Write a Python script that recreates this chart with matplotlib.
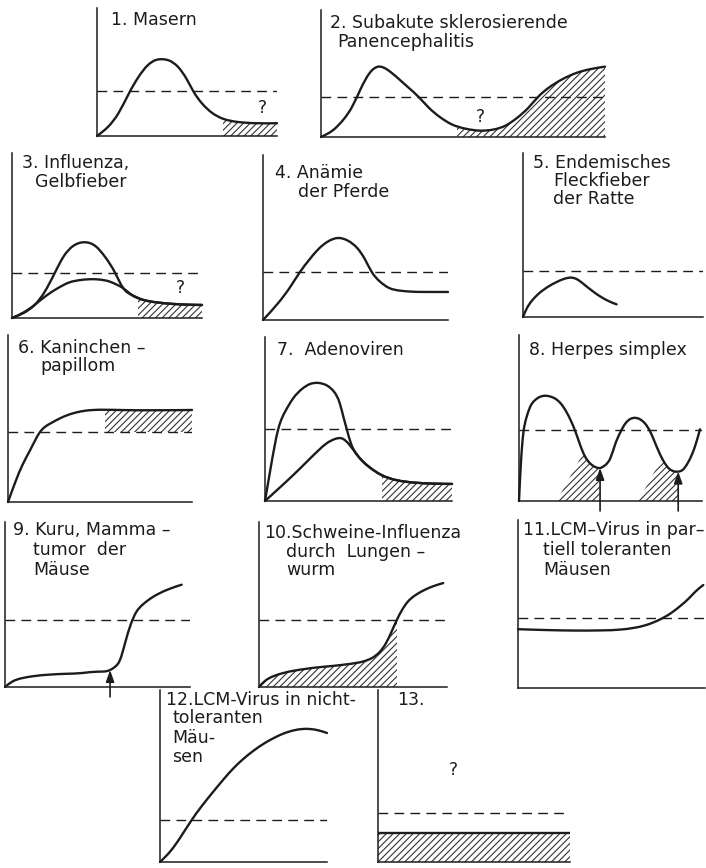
import numpy as np
import matplotlib.pyplot as plt
from matplotlib.path import Path
from matplotlib.patches import PathPatch, Polygon

plt.rcParams['hatch.linewidth'] = 0.8
plt.rcParams['hatch.color'] = '#333333'

INK = '#1c1c1c'
FS = 12.5
HATCH = '/////'

# ---- values (x: time 0..100, y: level 0..100 of the axis) ----
# 1. Masern
p1_x = [0, 6, 12, 18, 23, 28, 33, 36, 40, 45, 50, 53.5, 58, 64, 70, 78, 88, 100]
p1_y = [0, 7, 18, 34, 46, 55, 59.5, 60, 59, 54, 44, 35, 26, 18, 13.5, 11, 10, 10]
p1_dash = 35
p1_hatch = (70, 100)

# 2. Subakute sklerosierende Panencephalitis
p2_x = [0, 4, 8, 11, 14, 17, 20.2, 23.5, 27, 30.5, 34.3, 38, 42, 46, 51, 56,
        61, 65, 69, 73, 76.5, 80, 85, 90, 95, 100]
p2_y = [0, 5, 14, 24, 38, 50, 55.4, 52.8, 46.5, 39.5, 31.7, 23, 15.5, 10, 6.5, 5,
        6, 9, 15, 23, 31.7, 38.5, 45.5, 50.5, 53.5, 55.4]
p2_dash = 31.7
p2_hatch = (47.8, 100)

# 3. Influenza, Gelbfieber (two courses sharing one tail)
p3_up_x = [0, 6, 12, 17, 22.6, 27, 32, 38.4, 44, 49, 54.2, 58.6, 63, 69, 76, 85, 100]
p3_up_y = [0, 3, 8, 15.5, 27.5, 37, 43.5, 45.9, 43.5, 37, 27.5, 18, 14, 11, 9.5, 8.5, 7.9]
p3_lo_x = [0, 6, 12, 18, 24, 30, 36, 41, 46, 51.6, 55, 58.6, 63, 69, 76, 85, 100]
p3_lo_y = [0, 3.3, 8, 13.5, 18, 21.5, 23, 23.5, 23.3, 22, 20.3, 18, 14, 11, 9.5, 8.5, 7.9]
p3_dash = 27.5
p3_hatch = (66.5, 100)

# 4. Anaemie der Pferde
p4_x = [0, 8, 15, 20, 25, 30, 35, 40.7, 46, 51, 55, 58.8, 63, 68, 74, 80, 88, 100]
p4_y = [0, 10, 20.5, 29.1, 36.5, 43, 47.5, 49.7, 48, 43.5, 37, 29.1, 23.5, 19.5, 17.8, 17.2, 17, 17]
p4_dash = 29.1

# 5. Endemisches Fleckfieber der Ratte
p5_x = [0, 2, 5, 9, 14, 19, 23, 27, 30, 34, 39, 44, 48, 52]
p5_y = [0, 5, 10, 14.5, 18.5, 21.5, 23.3, 24, 23, 19.8, 15.5, 11.8, 9.5, 7.7]
p5_dash = 28

# 6. Kaninchenpapillom
p6_x = [0, 4, 8, 12, 17.4, 23, 29, 35, 41, 46.4, 60, 100]
p6_y = [0, 12, 22.5, 31, 41.9, 47, 50.5, 53, 54.5, 55.1, 55.1, 55.1]
p6_dash = 41.9
p6_hatch = (52.7, 100)

# 7. Adenoviren (two courses sharing one tail)
p7_up_x = [0, 3, 7.1, 11, 15, 20, 24, 28.5, 33, 37, 40, 42, 43.7, 46,
           49, 52, 56, 62, 70, 80, 90, 100]
p7_up_y = [0, 20, 43.9, 55, 62.5, 68.5, 71.3, 72, 70.5, 66.5, 59.5, 51, 43.9, 35,
           28.5, 24.5, 20.5, 16, 12.8, 11.2, 10.6, 10.4]
p7_lo_x = [0, 6, 12, 18.7, 24, 29, 33, 37.4, 41, 45, 49, 52, 56, 62, 70, 80, 90, 100]
p7_lo_y = [0, 6.2, 12.5, 19.8, 25.8, 31.3, 35.2, 37.8, 38.2, 34.5, 28.5, 24.5, 20.5, 16, 12.8, 11.2, 10.6, 10.4]
p7_dash = 43.9
p7_hatch = (62.4, 100)

# 8. Herpes simplex
p8_x = [0, 1, 2.3, 4, 6, 8.5, 11, 14, 16.9, 20, 23, 26, 28.5, 31.1, 33.5, 36, 39, 42, 44.3,
        47, 50, 52.5, 55.2, 58, 61, 63.4, 66, 69, 71.6, 74, 76.5, 79, 82, 85, 87,
        89.5, 92, 94.5, 96.5, 98.9]
p8_y = [0, 22, 40.3, 50, 56.5, 60.5, 62.5, 63.4, 63, 61.5, 58.5, 53.5, 48, 41, 33.5, 27, 22.5, 20.3, 19.9,
        21.5, 26, 34, 41, 46.5, 49.5, 50.1, 49.3, 46.5, 42, 36, 29.5, 24, 19.5, 17.8, 17.7,
        18.8, 22.5, 28, 34, 43.2]
p8_dash = 42.8
p8_hatch_start = [20.6, 65.2]
p8_arrows_x = [44.3, 87]
p8_arrows_y = [19.9, 17.7]

# 9. Kuru, Mammatumor der Maeuse
p9_x = [0, 4, 9, 15, 24, 33, 42, 50, 56.8, 59.5, 62, 65, 68, 71, 74.5, 78.5, 83, 89, 95.5]
p9_y = [0, 3.3, 5.3, 6.5, 7.5, 8, 8.5, 9.3, 10.3, 12.3, 16, 27, 38, 45.5, 50, 53.5, 56.5, 59.5, 62]
p9_dash = 40.6
p9_arrow = (56.8, 10.3)

# 10. Schweine-Influenza durch Lungenwurm
p10_x = [0, 3, 7.6, 13, 18.2, 25, 32, 39.5, 47, 55.5, 60, 64, 67.5, 70.5, 73.3,
         76, 79, 83, 88, 93, 98]
p10_y = [0, 3.5, 6.5, 8.5, 9.8, 11, 12, 12.8, 13.8, 15.5, 17.5, 21, 26.5, 33.5, 40.6,
         46.5, 51.5, 55.5, 58.8, 61.2, 63]
p10_dash = 40.6
p10_hatch = (0, 73.3)

# 11. LCM-Virus in partiell toleranten Maeusen
p11_x = [0, 15, 30, 45, 55, 62, 68, 73, 78, 83, 87.5, 91.5, 95, 99.1]
p11_y = [35, 34.5, 34.2, 34.3, 34.8, 35.8, 37.3, 39.3, 42, 45.5, 49.5, 53.5, 57.5, 61.3]
p11_dash = 41.7

# 12. LCM-Virus in nicht-toleranten Maeusen
p12_x = [0, 6, 12, 18, 25, 32, 38, 44, 50, 56, 62, 68, 74, 80, 85, 90, 95, 100]
p12_y = [0, 6, 14, 23, 32.5, 41, 48, 54.5, 60, 64.7, 68.7, 72, 74.7, 76.5, 77.3, 77.3, 76.5, 75]
p12_dash = 24.4

# 13.
p13_level = 16.9
p13_dash = 28.5


def smooth(xs, ys):
    # natural cubic spline through the read points, handed over as Bezier segments
    x = np.asarray(xs, float)
    y = np.asarray(ys, float)
    n = len(x)
    h = np.diff(x)
    d = np.diff(y) / h
    A = np.zeros((n, n))
    r = np.zeros(n)
    A[0, 0] = A[-1, -1] = 1
    for i in range(1, n - 1):
        A[i, i - 1] = h[i - 1]
        A[i, i] = 2 * (h[i - 1] + h[i])
        A[i, i + 1] = h[i]
        r[i] = 6 * (d[i] - d[i - 1])
    M = np.linalg.solve(A, r)
    m = np.empty(n)
    m[:-1] = d - h * (2 * M[:-1] + M[1:]) / 6
    m[-1] = d[-1] + h[-1] * (M[-2] + 2 * M[-1]) / 6
    verts = [(x[0], y[0])]
    codes = [Path.MOVETO]
    for i in range(n - 1):
        verts += [(x[i] + h[i] / 3, y[i] + m[i] * h[i] / 3),
                  (x[i + 1] - h[i] / 3, y[i + 1] - m[i + 1] * h[i] / 3),
                  (x[i + 1], y[i + 1])]
        codes += [Path.CURVE4] * 3
    return verts, codes


def panel(x0, x1, yt, yb):
    ax = fig.add_axes([x0 / 706, 1 - yb / 868, (x1 - x0) / 706, (yb - yt) / 868])
    ax.set_xlim(0, 100)
    ax.set_ylim(0, 100)
    ax.set_xticks([])
    ax.set_yticks([])
    ax.patch.set_alpha(0)
    for s in ['top', 'right']:
        ax.spines[s].set_visible(False)
    for s in ['left', 'bottom']:
        ax.spines[s].set_linewidth(1.1)
        ax.spines[s].set_color(INK)
    return ax


def curve(ax, xs, ys):
    v, c = smooth(xs, ys)
    ax.add_patch(PathPatch(Path(v, c), fill=False, lw=1.7, ec=INK,
                           clip_on=False, capstyle='round', joinstyle='round', zorder=4))


def hatch_under(ax, xs, ys, clip):
    v, c = smooth(xs, ys)
    v = v + [(xs[-1], 0), (xs[0], 0), (xs[0], 0)]
    c = c + [Path.LINETO, Path.LINETO, Path.CLOSEPOLY]
    p = PathPatch(Path(v, c), fc='none', ec='#333333', lw=0, hatch=HATCH, zorder=2)
    ax.add_patch(p)
    p.set_clip_path(Polygon(clip, closed=True, transform=ax.transData))


def band(a, b):
    return [(a, -1), (b, -1), (b, 101), (a, 101)]


def dash(ax, y):
    ax.axhline(y, color=INK, lw=1.0, dashes=(7, 4.5), zorder=3)


def title(ax, lines):
    for x, y, s in lines:
        ax.text(x, y, s, fontsize=FS, ha='left', va='center', color=INK, clip_on=False)


def arrow(ax, x, y):
    ax.annotate('', xy=(x, y), xytext=(x, -6),
                arrowprops=dict(arrowstyle='-|>,head_length=0.7,head_width=0.25',
                                color=INK, lw=1.2, shrinkA=0, shrinkB=0),
                annotation_clip=False, zorder=5)


fig = plt.figure(figsize=(7.06, 8.68), dpi=100)

# 1
ax = panel(97, 277, 8, 136)
dash(ax, p1_dash)
hatch_under(ax, p1_x, p1_y, band(*p1_hatch))
curve(ax, p1_x, p1_y)
ax.text(92, 22, '?', fontsize=FS, ha='center', va='center', color=INK)
title(ax, [(8, 91, '1. Masern')])

# 2
ax = panel(321, 605, 10, 137)
dash(ax, p2_dash)
hatch_under(ax, p2_x, p2_y, band(*p2_hatch))
curve(ax, p2_x, p2_y)
ax.text(56, 16, '?', fontsize=FS, ha='center', va='center', color=INK)
title(ax, [(3.2, 89.5, '2. Subakute sklerosierende'), (5.6, 75, 'Panencephalitis')])

# 3
ax = panel(12, 202, 153, 318)
dash(ax, p3_dash)
hatch_under(ax, p3_lo_x, p3_lo_y, band(*p3_hatch))
curve(ax, p3_up_x, p3_up_y)
curve(ax, p3_lo_x, p3_lo_y)
ax.text(88.4, 18, '?', fontsize=FS, ha='center', va='center', color=INK)
title(ax, [(5.1, 93.9, '3. Influenza,'), (12.1, 82.4, 'Gelbfieber')])

# 4
ax = panel(263, 448, 155, 320)
dash(ax, p4_dash)
curve(ax, p4_x, p4_y)
title(ax, [(6.5, 89.1, '4. Anämie'), (19, 77.6, 'der Pferde')])

# 5
ax = panel(523, 703, 153, 317)
dash(ax, p5_dash)
curve(ax, p5_x, p5_y)
title(ax, [(5.7, 93.9, '5. Endemisches'), (16.8, 82.9, 'Fleckfieber'),
           (16.8, 72, 'der Ratte')])

# 6
ax = panel(8, 192, 335, 502)
dash(ax, p6_dash)
ax.fill_between(list(p6_hatch), p6_dash, p6_y[-1], fc='none', ec='#333333',
                lw=0, hatch=HATCH, zorder=2)
curve(ax, p6_x, p6_y)
title(ax, [(5.6, 92.2, '6. Kaninchen –'), (17.4, 81.4, 'papillom')])

# 7
ax = panel(265, 452, 337, 501)
dash(ax, p7_dash)
hatch_under(ax, p7_lo_x, p7_lo_y, band(*p7_hatch))
curve(ax, p7_up_x, p7_up_y)
curve(ax, p7_lo_x, p7_lo_y)
title(ax, [(6.2, 92.1, '7.  Adenoviren')])

# 8
ax = panel(519, 702, 335, 501)
dash(ax, p8_dash)
for xs, xa in zip(p8_hatch_start, p8_arrows_x):
    hatch_under(ax, p8_x, p8_y, [(xs, 0), (xa, (xa - xs) * 2.0), (xa, 0)])
curve(ax, p8_x, p8_y)
for xa, ya in zip(p8_arrows_x, p8_arrows_y):
    arrow(ax, xa, ya)
title(ax, [(5.6, 91, '8. Herpes simplex')])

# 9
ax = panel(5, 190, 522, 687)
dash(ax, p9_dash)
curve(ax, p9_x, p9_y)
arrow(ax, *p9_arrow)
title(ax, [(4.5, 95.2, '9. Kuru, Mamma –'), (15.3, 83, 'tumor  der'), (15.3, 70.9, 'Mäuse')])

# 10
ax = panel(259, 447, 522, 687)
dash(ax, p10_dash)
hatch_under(ax, p10_x, p10_y, band(*p10_hatch))
curve(ax, p10_x, p10_y)
title(ax, [(2.5, 93.3, '10.Schweine-Influenza'), (14.5, 81.8, 'durch  Lungen –'),
           (14.5, 70.9, 'wurm')])

# 11
ax = panel(518, 705, 520, 688)
dash(ax, p11_dash)
curve(ax, p11_x, p11_y)
title(ax, [(2.5, 94, '11.LCM–Virus in par–'), (13.4, 82.1, 'tiell toleranten'),
           (13.4, 70.2, 'Mäusen')])

# 12
ax = panel(160, 327, 690, 862)
dash(ax, p12_dash)
curve(ax, p12_x, p12_y)
title(ax, [(3.5, 94.2, '12.LCM-Virus in nicht-'), (7.2, 83.7, 'toleranten'),
           (7.2, 72.1, 'Mäu-'), (7.2, 61, 'sen')])

# 13
ax = panel(378, 570, 690, 862)
dash(ax, p13_dash)
ax.fill_between([0, 100], 0, p13_level, fc='none', ec='#333333', lw=0,
                hatch=HATCH, zorder=2)
ax.axhline(p13_level, color=INK, lw=1.7, zorder=4)
ax.text(39, 53.5, '?', fontsize=FS, ha='center', va='center', color=INK)
title(ax, [(10, 94.2, '13.')])

fig.savefig('out.png', dpi=100, facecolor='white')
